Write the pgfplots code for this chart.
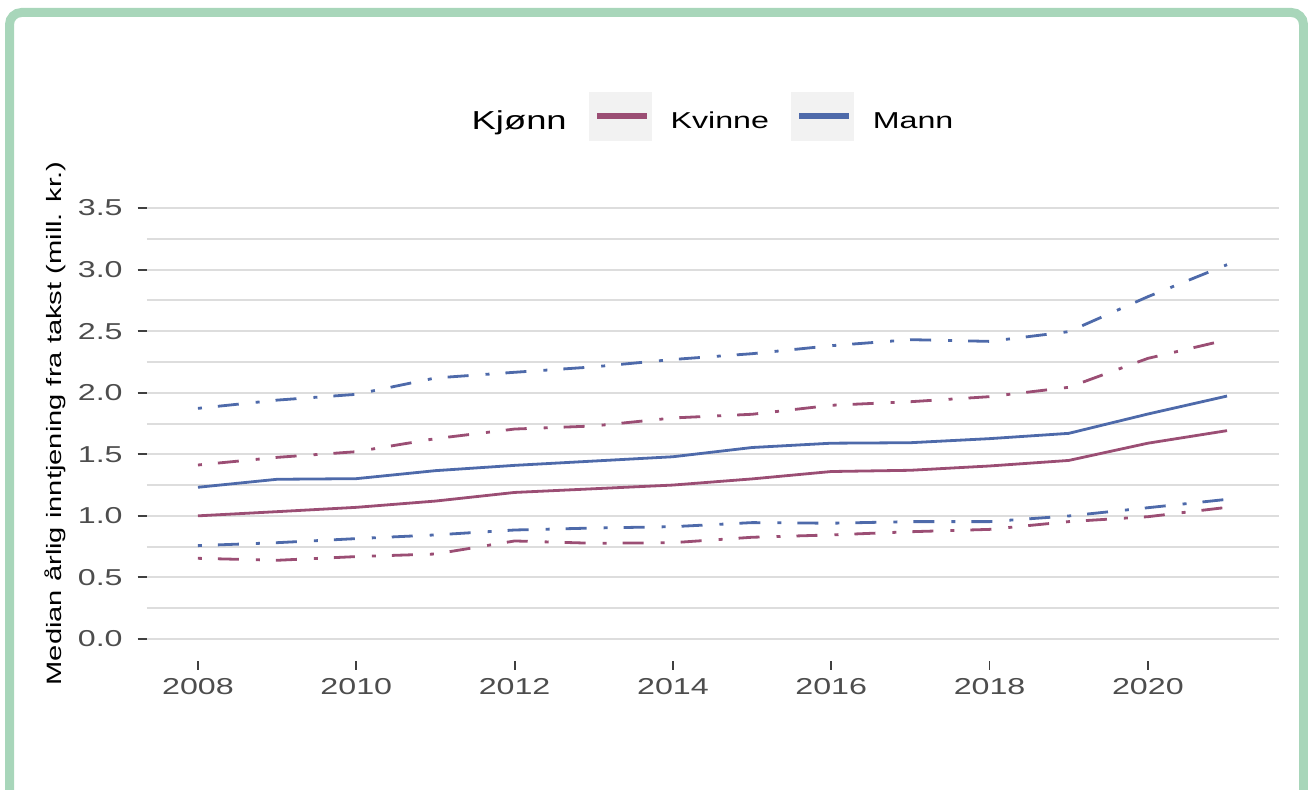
\documentclass[border=0pt]{standalone}
\usepackage{fontspec}
\setmainfont{Liberation Sans}[FakeStretch=1.4]
\usepackage{pgfplots}
\usepackage{pgfplotstable}
\pgfplotsset{compat=1.18}
\definecolor{kv}{RGB}{155,78,116}
\definecolor{ma}{RGB}{78,106,170}
\definecolor{gridc}{RGB}{221,221,221}
\definecolor{framec}{RGB}{168,214,186}
\definecolor{keybg}{RGB}{242,242,242}
\definecolor{tickc}{RGB}{77,77,77}

\pgfplotstableread{
year kvm   mam   kvlo  kvhi  malo  mahi
2008 1.000 1.232 0.655 1.413 0.758 1.873
2009 1.034 1.297 0.639 1.475 0.782 1.940
2010 1.069 1.302 0.669 1.521 0.815 1.987
2011 1.120 1.367 0.690 1.627 0.845 2.120
2012 1.190 1.410 0.796 1.705 0.885 2.166
2013 1.220 1.445 0.777 1.730 0.901 2.210
2014 1.250 1.480 0.782 1.795 0.912 2.270
2015 1.300 1.555 0.826 1.825 0.945 2.317
2016 1.360 1.590 0.845 1.898 0.940 2.382
2017 1.370 1.594 0.871 1.927 0.953 2.431
2018 1.405 1.627 0.890 1.968 0.953 2.417
2019 1.450 1.670 0.953 2.044 0.999 2.496
2020 1.590 1.827 0.993 2.279 1.066 2.780
2021 1.692 1.973 1.069 2.430 1.134 3.040
}\data

\tikzset{dd/.style={dash pattern=on 2pt off 8pt on 10.5pt off 8.5pt}}

\begin{document}
\begin{tikzpicture}
\useasboundingbox (0,0) rectangle (654pt,394.5pt);
\draw[framec, line width=4.5pt, rounded corners=6pt] (4.75pt,-6pt) -- (4.75pt,388.25pt) -- (651.75pt,388.25pt) -- (651.75pt,-6pt);
\begin{axis}[
  at={(73.25pt,64.25pt)}, anchor=south west,
  scale only axis, width=566pt, height=237pt,
  xmin=2007.35, xmax=2021.65, ymin=-0.175, ymax=3.675,
  axis line style={draw=none},
  xtick={2008,2010,2012,2014,2016,2018,2020},
  xticklabels={2008,2010,2012,2014,2016,2018,2020},
  ytick={0,0.5,1,1.5,2,2.5,3,3.5},
  yticklabels={0.0,0.5,1.0,1.5,2.0,2.5,3.0,3.5},
  minor ytick={0.25,0.75,1.25,1.75,2.25,2.75,3.25},
  ymajorgrids, yminorgrids,
  major grid style={gridc, line width=1pt},
  minor grid style={gridc, line width=1pt},
  tick align=outside, tick pos=left,
  major tick length=4.5pt, minor tick length=0pt,
  major tick style={black!75, line width=0.9pt},
  ticklabel style={font=\fontsize{11.5}{13}\selectfont, text=tickc},
  yticklabel style={inner sep=0pt, anchor=east, xshift=-7.25pt},
  xticklabel style={inner sep=0pt, anchor=north, yshift=-4.5pt},
  ylabel={Median årlig inntjening fra takst (mill. kr.)},
  ylabel style={at={([xshift=-45.75pt]axis description cs:0,0.5)}, anchor=center, font=\fontsize{10.4}{12}\selectfont},
  legend columns=-1,
  legend style={at={([yshift=35.25pt]axis description cs:0.5,1)}, anchor=center, draw=none, fill=none, inner sep=0pt, outer sep=0pt, column sep=0pt, row sep=0pt, nodes={inner sep=0pt, fill=none, draw=none, font=\fontsize{11.5}{13}\selectfont}},
]
\addlegendimage{empty legend}
\addlegendentry{\fontsize{13}{15}\selectfont Kjønn\rule{11pt}{0pt}}
\addlegendimage{legend image code/.code={%
    \fill[keybg] (0pt,-9pt) rectangle (31pt,15pt);
    \fill[kv] (4pt,1.9pt) rectangle (28.5pt,4.1pt);}}
\addlegendentry{\rule{9.5pt}{0pt}Kvinne\rule{11pt}{0pt}}
\addlegendimage{legend image code/.code={%
    \fill[keybg] (0pt,-9pt) rectangle (31pt,15pt);
    \fill[ma] (4pt,1.9pt) rectangle (28.5pt,4.1pt);}}
\addlegendentry{\rule{9.5pt}{0pt}Mann}
\addplot[kv, line width=1.4pt, line join=round, forget plot] table[x=year,y=kvm]{\data};
\addplot[ma, line width=1.4pt, line join=round, forget plot] table[x=year,y=mam]{\data};
\addplot[kv, line width=1.4pt, dd, forget plot] table[x=year,y=kvhi]{\data};
\addplot[kv, line width=1.4pt, dd, forget plot] table[x=year,y=kvlo]{\data};
\addplot[ma, line width=1.4pt, dd, forget plot] table[x=year,y=mahi]{\data};
\addplot[ma, line width=1.4pt, dd, forget plot] table[x=year,y=malo]{\data};
\end{axis}
\end{tikzpicture}
\end{document}
